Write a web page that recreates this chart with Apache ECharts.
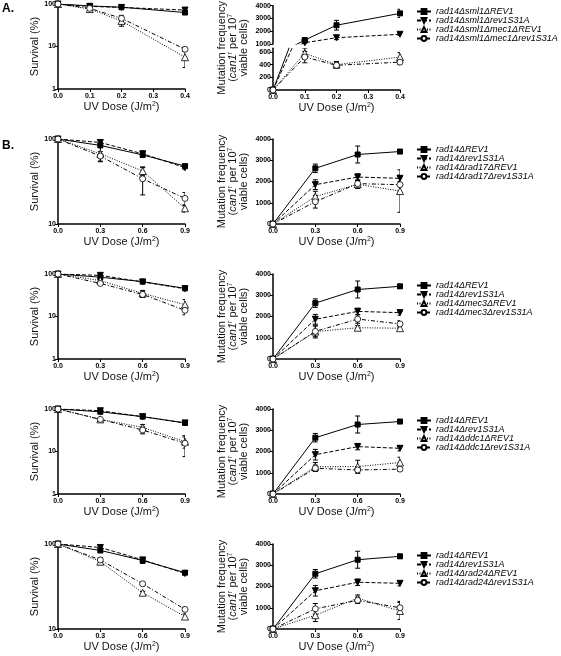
<!DOCTYPE html>
<html><head><meta charset="utf-8">
<script src="https://cdn.jsdelivr.net/npm/echarts@6/dist/echarts.min.js"></script>
<style>html,body{margin:0;padding:0;background:#fff}#c{width:561px;height:656px}</style>
</head><body><div id="c"></div>
<script>
// ---------- data ----------
const doseA = [0, 0.1, 0.2, 0.4];
const doseB = [0, 0.3, 0.6, 0.9];
const mutLowTicks = [0, 200, 400, 600];

const namesA  = ['rad14Δsml1ΔREV1','rad14Δsml1Δrev1S31A','rad14Δsml1Δmec1ΔREV1','rad14Δsml1Δmec1Δrev1S31A'];
const namesB1 = ['rad14ΔREV1','rad14Δrev1S31A','rad14Δrad17ΔREV1','rad14Δrad17Δrev1S31A'];
const namesB2 = ['rad14ΔREV1','rad14Δrev1S31A','rad14Δmec3ΔREV1','rad14Δmec3Δrev1S31A'];
const namesB3 = ['rad14ΔREV1','rad14Δrev1S31A','rad14Δddc1ΔREV1','rad14Δddc1Δrev1S31A'];
const namesB4 = ['rad14ΔREV1','rad14Δrev1S31A','rad14Δrad24ΔREV1','rad14Δrad24Δrev1S31A'];

const survA    = [[100,90,84,63],[100,88,83,72],[100,76,40,5.6],[100,79,46,8.6]];
const survAErr = [[0,3,3,6],[0,3,3,8],[0,4,10,2.4],[0,4,8,1]];
const mutA     = [[0,1310,2470,3400],[0,1100,1490,1760],[0,580,400,520],[0,520,390,440]];
const mutAErr  = [[0,100,380,320],[0,80,150,80],[0,80,50,70],[0,90,40,40]];

const survB1    = [[100,84,65,48],[100,91,67,46],[100,67,42,15.3],[100,63,34,20]];
const survB1Err = [[0,4,4,2],[0,4,5,2],[0,13,5,1.5],[0,8,12,3.5]];
const mutB1     = [[0,2620,3270,3410],[0,1850,2210,2150],[0,1290,1870,1550],[0,1050,1900,1850]];
const mutB1Err  = [[0,200,400,100],[0,230,150,150],[0,250,200,1000],[0,300,150,300]];

const survB2    = [[100,84,66,46],[100,93,65,45],[100,70,35,19],[100,60,33,14]];
const survB2Err = [[0,4,3,2],[0,6,3,2],[0,4,6,6],[0,4,5,3]];
const mutB2     = [[0,2630,3270,3420],[0,1870,2240,2180],[0,1290,1470,1450],[0,1300,1880,1650]];
const mutB2Err  = [[0,200,400,100],[0,230,150,120],[0,300,100,100],[0,250,200,150]];

const survB3    = [[100,86,66,47],[100,91,66,47],[100,57,37,17],[100,57,32,15.6]];
const survB3Err = [[0,5,3,2],[0,6,3,2],[0,3,6,5],[0,3,6,8]];
const mutB3     = [[0,2650,3270,3410],[0,1850,2230,2150],[0,1280,1290,1480],[0,1210,1130,1170]];
const mutB3Err  = [[0,200,400,100],[0,250,150,120],[0,200,300,250],[0,150,150,100]];

const survB4    = [[100,84,64,46],[100,91,65,45],[100,62,26.7,14],[100,65,34,17]];
const survB4Err = [[0,5,5,2],[0,4,3,2],[0,5,1,1],[0,4,1,1]];
const mutB4     = [[0,2600,3260,3420],[0,1800,2200,2150],[0,650,1450,850],[0,950,1350,1000]];
const mutB4Err  = [[0,200,400,100],[0,250,150,120],[0,300,150,400],[0,250,150,300]];

// ---------- styling / layout ----------
const FONT = '"Liberation Sans", Arial, sans-serif';
const STY = [
  {type:'solid',     symbol:'rect',     size:5, rotate:0,   fill:'#000', bw:1},
  {type:[4,2],       symbol:'triangle', size:6, rotate:180, fill:'#000', bw:1},
  {type:[1,1.5],     symbol:'triangle', size:7, rotate:0,   fill:'#fff', bw:0.8},
  {type:[4,2,1,2],   symbol:'circle',   size:6, rotate:0,   fill:'#fff', bw:0.8}
];
const SURV_L = 58, MUT_L = 273, PW = 127;
const AX_LINE = {show:true, onZero:false, lineStyle:{color:'#000', width:1.5}};
const AX_TICK = {show:true, length:3, lineStyle:{color:'#000', width:1}};
const LBL = {fontSize:7, fontWeight:'bold', color:'#000', fontFamily:FONT};
const NAME_STYLE = {fontSize:11, color:'#111', fontFamily:FONT,
  rich:{ s:{fontSize:7, verticalAlign:'top', color:'#111', fontFamily:FONT, lineHeight:11},
         a:{fontSize:11, color:'#111', fontFamily:FONT, lineHeight:11},
         i:{fontSize:11, fontStyle:'italic', color:'#111', fontFamily:FONT, lineHeight:11} }};
const MUT_NAME = '{a|Mutation frequency}\n{a|(}{i|can1}{s|r}{a| per 10}{s|7}\n{a|viable cells)}';

const grid=[], xAxis=[], yAxis=[], series=[], legend=[];

function addGrid(l,t,w,h){ grid.push({left:l, top:t, width:w, height:h, outerBoundsMode:'none'}); return grid.length-1; }
function addX(gi, max, interval, opts){
  opts = opts || {};
  xAxis.push({gridIndex:gi, type:'value', min:0, max, interval, show: opts.show !== false,
    axisLine:AX_LINE, axisTick:AX_TICK,
    axisLabel:Object.assign({}, LBL, {margin:4, formatter:v=>v.toFixed(1)}),
    splitLine:{show:false},
    name: opts.noName ? '' : 'UV Dose (J/m{s|2})', nameLocation:'middle', nameGap:12,
    nameTextStyle:NAME_STYLE});
  return xAxis.length-1;
}
function addYSurv(gi, min){
  yAxis.push({gridIndex:gi, type:'log', logBase:10, min, max:100,
    axisLine:AX_LINE, axisTick:AX_TICK, axisLabel:Object.assign({}, LBL, {margin:2, formatter:v=>String(Math.round(v))}),
    splitLine:{show:false}, minorTick:{show:false}, minorSplitLine:{show:false},
    name:'Survival (%)', nameLocation:'middle', nameRotate:90, nameGap:13, nameTextStyle:NAME_STYLE});
  return yAxis.length-1;
}
function addYMut(gi, min, max, interval, opts){
  opts = opts || {};
  const lab = Object.assign({}, LBL, {margin:2, formatter:v=>String(Math.round(v))});
  const tick = Object.assign({}, AX_TICK);
  if (opts.custom){ lab.customValues = opts.custom; tick.customValues = opts.custom; }
  yAxis.push({gridIndex:gi, type:'value', min, max, interval,
    axisLine:AX_LINE, axisTick:tick, axisLabel:lab, splitLine:{show:false},
    name: opts.name ? MUT_NAME : '', nameLocation:'middle', nameRotate:90, nameGap:24, nameTextStyle:NAME_STYLE});
  return yAxis.length-1;
}
function addNameOnlyY(gi){
  yAxis.push({gridIndex:gi, type:'value', min:0, max:1,
    axisLine:{show:false}, axisTick:{show:false}, axisLabel:{show:false}, splitLine:{show:false},
    name:MUT_NAME, nameLocation:'middle', nameRotate:90, nameGap:24, nameTextStyle:NAME_STYLE});
  return yAxis.length-1;
}
function addLines(xi, yi, dose, vals, names){
  vals.forEach((v,k)=>{
    const s = STY[k];
    series.push({type:'line', name:names[k], xAxisIndex:xi, yAxisIndex:yi,
      data: dose.map((d,j)=>[d, v[j]]), clip:true,
      symbol:s.symbol, symbolSize:s.size, symbolRotate:s.rotate, showSymbol:true,
      lineStyle:{color:'#000', width:1, type:s.type},
      itemStyle:{color:s.fill, borderColor:'#000', borderWidth:s.bw},
      emphasis:{disabled:true}, z:3, animation:false});
  });
}
function addErr(xi, yi, dose, vals, errs, lo, hi){
  const data = [];
  vals.forEach((v,k)=>{ dose.forEach((d,j)=>{
    if (errs[k][j] > 0 && v[j] >= lo && v[j] <= hi) data.push([d, v[j], errs[k][j]]);
  });});
  series.push({type:'custom', name:'err', xAxisIndex:xi, yAxisIndex:yi, data, clip:true, silent:true, z:2,
    encode:{x:0, y:1}, animation:false,
    renderItem:(params, api)=>{
      const x = api.value(0), y = api.value(1), e = api.value(2);
      const top = api.coord([x, y + e]);
      const bot = api.coord([x, Math.max(y - e, y * 0.05)]);
      const w = 2.5, st = {stroke:'#000', lineWidth:1};
      return {type:'group', children:[
        {type:'line', shape:{x1:top[0], y1:top[1], x2:bot[0], y2:bot[1]}, style:st},
        {type:'line', shape:{x1:top[0]-w, y1:top[1], x2:top[0]+w, y2:top[1]}, style:st},
        {type:'line', shape:{x1:bot[0]-w, y1:bot[1], x2:bot[0]+w, y2:bot[1]}, style:st}
      ]};
    }});
}
function addLegend(top, names){
  legend.push({orient:'vertical', left:416, top, itemWidth:14, itemHeight:6, itemGap:0, padding:0,
    selectedMode:false, data:names,
    textStyle:{fontSize:9, fontStyle:'italic', fontFamily:FONT, color:'#000', lineHeight:8}});
}

// ---------- row A ----------
(function(){
  const g = addGrid(SURV_L, 4, PW, 85);
  const xi = addX(g, 0.4, 0.1), yi = addYSurv(g, 1);
  addErr(xi, yi, doseA, survA, survAErr, 0, 1e9);
  addLines(xi, yi, doseA, survA, namesA);

  const gu = addGrid(MUT_L, 5.7, PW, 38.3);
  const xu = addX(gu, 0.4, 0.1, {show:false, noName:true});
  const yu = addYMut(gu, 1000, 4000, 1000);
  addErr(xu, yu, doseA, mutA, mutAErr, 1000, 4000);
  addLines(xu, yu, doseA, mutA, namesA);

  const gl = addGrid(MUT_L, 48.2, PW, 41.8);
  const xl = addX(gl, 0.4, 0.1);
  const yl = addYMut(gl, 0, 660, 200, {custom:mutLowTicks});
  addErr(xl, yl, doseA, mutA, mutAErr, 0, 660);
  addLines(xl, yl, doseA, mutA, namesA);

  const gn = addGrid(MUT_L, 5.7, PW, 84.3);
  addX(gn, 0.4, 0.1, {show:false, noName:true});
  addNameOnlyY(gn);
  addLegend(7, namesA);
})();

// ---------- rows B ----------
const rowsB = [
  {top:139, smin:10, surv:survB1, se:survB1Err, mut:mutB1, me:mutB1Err, names:namesB1, leg:145},
  {top:274, smin:1,  surv:survB2, se:survB2Err, mut:mutB2, me:mutB2Err, names:namesB2, leg:281},
  {top:409, smin:1,  surv:survB3, se:survB3Err, mut:mutB3, me:mutB3Err, names:namesB3, leg:416},
  {top:544, smin:10, surv:survB4, se:survB4Err, mut:mutB4, me:mutB4Err, names:namesB4, leg:551}
];
rowsB.forEach(r=>{
  const g = addGrid(SURV_L, r.top, PW, 85);
  const xi = addX(g, 0.9, 0.3), yi = addYSurv(g, r.smin);
  addErr(xi, yi, doseB, r.surv, r.se, 0, 1e9);
  addLines(xi, yi, doseB, r.surv, r.names);

  const gm = addGrid(MUT_L, r.top, PW, 85);
  const xm = addX(gm, 0.9, 0.3), ym = addYMut(gm, 0, 4000, 1000, {name:true});
  addErr(xm, ym, doseB, r.mut, r.me, 0, 1e9);
  addLines(xm, ym, doseB, r.mut, r.names);
  addLegend(r.leg, r.names);
});

const chart = echarts.init(document.getElementById('c'), null, {renderer:'canvas', width:561, height:656});
chart.setOption({
  animation:false,
  backgroundColor:'#fff',
  title:[
    {text:'A.', left:2, top:3, padding:0, textStyle:{fontSize:12, fontWeight:'bold', fontFamily:FONT, color:'#000'}},
    {text:'B.', left:2, top:140, padding:0, textStyle:{fontSize:12, fontWeight:'bold', fontFamily:FONT, color:'#000'}}
  ],
  grid, xAxis, yAxis, series, legend,
  tooltip:{show:false}
});
</script>
</body></html>
